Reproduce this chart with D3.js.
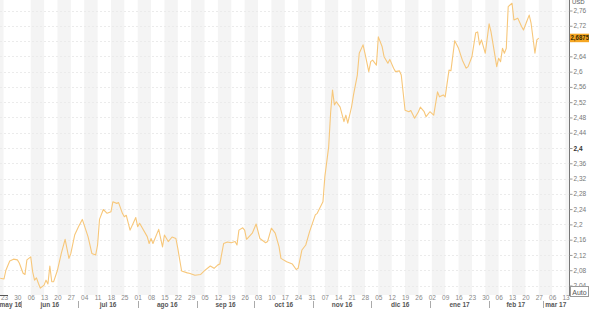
<!DOCTYPE html>
<html><head><meta charset="utf-8">
<script src="https://cdn.jsdelivr.net/npm/d3@7"></script>
<style>html,body{margin:0;padding:0;background:#fff;}svg{display:block;font-family:"Liberation Sans",Arial,sans-serif;}</style>
</head><body>
<script>
// ---- data ----
const dates = ["2016-05-21","2016-05-23","2016-05-24","2016-05-26","2016-05-28","2016-05-30","2016-05-31","2016-06-02","2016-06-03","2016-06-04","2016-06-06","2016-06-07","2016-06-08","2016-06-09","2016-06-10","2016-06-11","2016-06-13","2016-06-14","2016-06-15","2016-06-16","2016-06-17","2016-06-18","2016-06-20","2016-06-22","2016-06-24","2016-06-26","2016-06-27","2016-06-29","2016-07-01","2016-07-03","2016-07-04","2016-07-06","2016-07-08","2016-07-10","2016-07-11","2016-07-12","2016-07-14","2016-07-16","2016-07-18","2016-07-19","2016-07-21","2016-07-22","2016-07-24","2016-07-25","2016-07-26","2016-07-28","2016-07-30","2016-07-31","2016-08-01","2016-08-02","2016-08-06","2016-08-07","2016-08-08","2016-08-09","2016-08-12","2016-08-14","2016-08-15","2016-08-17","2016-08-19","2016-08-21","2016-08-22","2016-08-24","2016-08-27","2016-08-28","2016-08-31","2016-09-03","2016-09-05","2016-09-08","2016-09-10","2016-09-12","2016-09-13","2016-09-15","2016-09-17","2016-09-19","2016-09-21","2016-09-22","2016-09-23","2016-09-25","2016-09-26","2016-09-27","2016-09-30","2016-10-02","2016-10-04","2016-10-07","2016-10-08","2016-10-10","2016-10-12","2016-10-14","2016-10-15","2016-10-18","2016-10-21","2016-10-23","2016-10-24","2016-10-26","2016-10-28","2016-10-30","2016-11-02","2016-11-03","2016-11-06","2016-11-07","2016-11-09","2016-11-10","2016-11-11","2016-11-12","2016-11-13","2016-11-15","2016-11-17","2016-11-18","2016-11-19","2016-11-21","2016-11-22","2016-11-24","2016-11-25","2016-11-27","2016-11-28","2016-11-30","2016-12-01","2016-12-02","2016-12-04","2016-12-05","2016-12-07","2016-12-08","2016-12-10","2016-12-11","2016-12-13","2016-12-14","2016-12-16","2016-12-17","2016-12-19","2016-12-21","2016-12-22","2016-12-24","2016-12-26","2016-12-27","2016-12-29","2016-12-30","2017-01-01","2017-01-03","2017-01-05","2017-01-06","2017-01-08","2017-01-09","2017-01-11","2017-01-12","2017-01-14","2017-01-16","2017-01-18","2017-01-20","2017-01-21","2017-01-23","2017-01-25","2017-01-26","2017-01-27","2017-01-28","2017-01-30","2017-02-01","2017-02-02","2017-02-03","2017-02-05","2017-02-06","2017-02-07","2017-02-08","2017-02-09","2017-02-10","2017-02-11","2017-02-13","2017-02-14","2017-02-16","2017-02-18","2017-02-19","2017-02-21","2017-02-22","2017-02-23","2017-02-25","2017-02-26","2017-02-27"];
const values = [2.059,2.057,2.080,2.104,2.109,2.107,2.099,2.072,2.069,2.107,2.115,2.076,2.054,2.060,2.046,2.033,2.041,2.054,2.044,2.091,2.050,2.050,2.080,2.124,2.161,2.111,2.124,2.172,2.194,2.213,2.198,2.168,2.124,2.120,2.146,2.213,2.239,2.229,2.233,2.259,2.255,2.257,2.229,2.220,2.224,2.185,2.207,2.218,2.194,2.203,2.168,2.150,2.163,2.150,2.187,2.141,2.172,2.155,2.167,2.163,2.137,2.078,2.073,2.072,2.067,2.069,2.079,2.091,2.085,2.094,2.096,2.150,2.154,2.152,2.155,2.146,2.185,2.191,2.185,2.161,2.177,2.201,2.163,2.152,2.155,2.190,2.177,2.142,2.111,2.102,2.096,2.082,2.085,2.133,2.146,2.181,2.225,2.229,2.259,2.325,2.403,2.491,2.552,2.513,2.521,2.507,2.469,2.486,2.465,2.508,2.539,2.591,2.648,2.670,2.648,2.600,2.626,2.630,2.617,2.691,2.665,2.639,2.622,2.632,2.609,2.600,2.602,2.591,2.499,2.495,2.498,2.478,2.495,2.507,2.495,2.482,2.495,2.486,2.547,2.534,2.539,2.534,2.604,2.602,2.681,2.661,2.630,2.609,2.613,2.639,2.702,2.704,2.670,2.683,2.648,2.725,2.704,2.674,2.613,2.635,2.626,2.661,2.648,2.661,2.770,2.779,2.735,2.740,2.718,2.709,2.735,2.748,2.726,2.648,2.683,2.6875];
const yTicks = [2.04,2.08,2.12,2.16,2.2,2.24,2.28,2.32,2.36,2.4,2.44,2.48,2.52,2.56,2.6,2.64,2.68,2.72,2.76];
const yTickLabels = ["2,04","2,08","2,12","2,16","2,2","2,24","2,28","2,32","2,36","2,4","2,44","2,48","2,52","2,56","2,6","2,64","2,68","2,72","2,76"];
const monthLabels = ["may 16","jun 16","jul 16","ago 16","sep 16","oct 16","nov 16","dic 16","ene 17","feb 17","mar 17"];
const lastLabel = "2,6875";
const lastValue = 2.6875;
const currency = "USD";

// ---- layout ----
const W = 589, H = 309;
const plotRight = 569, plotBottom = 295;
const parse = d3.utcParse("%Y-%m-%d");
const data = dates.map((d, i) => ({date: parse(d), value: values[i]}));

const x = d3.scaleUtc().domain([parse("2016-05-23"), parse("2017-03-13")]).range([4, 565.5]);
const y = d3.scaleLinear().domain([2.04, 2.76]).range([285.5, 10.5]);

const svg = d3.select("body").append("svg").attr("width", W).attr("height", H);

svg.append("clipPath").attr("id", "clip").append("rect")
  .attr("x", 0).attr("y", 0).attr("width", plotRight).attr("height", plotBottom);

const plot = svg.append("g").attr("clip-path", "url(#clip)");

// alternating weekly bands
const mondays = d3.utcMonday.range(parse("2016-05-16"), parse("2017-04-01"));
const ref = parse("2016-06-06");
const bandWeeks = mondays.filter(m => {
  const k = Math.round((m - ref) / (7 * 864e5));
  return k >= 0 && k % 2 === 0;
});
plot.selectAll("rect.band").data(bandWeeks).join("rect")
  .attr("class", "band")
  .attr("x", d => x(d))
  .attr("y", 0)
  .attr("width", d => x(d3.utcDay.offset(d, 7)) - x(d))
  .attr("height", plotBottom)
  .attr("fill", "#f4f4f4");
// partial band at the left edge
plot.append("rect").attr("x", 0).attr("y", 0)
  .attr("width", x(parse("2016-05-23")) - 0.5).attr("height", plotBottom).attr("fill", "#f4f4f4");

// faint horizontal grid
plot.selectAll("line.grid").data(yTicks).join("line")
  .attr("class", "grid")
  .attr("x1", 0).attr("x2", plotRight)
  .attr("y1", d => Math.round(y(d)) + 0.5).attr("y2", d => Math.round(y(d)) + 0.5)
  .attr("stroke", "#ebebeb").attr("stroke-width", 1).attr("stroke-dasharray", "2,2");

// price line
plot.append("path").datum(data)
  .attr("fill", "none")
  .attr("stroke", "#f7c77a")
  .attr("stroke-width", 1.1)
  .attr("stroke-linejoin", "round")
  .attr("d", d3.line().x(d => x(d.date)).y(d => y(d.value)));

// right axis
const yAxis = d3.axisRight(y).tickValues(yTicks).tickSize(3).tickPadding(1)
  .tickFormat((d, i) => yTickLabels[i]);
const ya = svg.append("g").attr("transform", `translate(${plotRight + 0.5},0)`).call(yAxis);
ya.select(".domain").attr("stroke", "#777").attr("d", `M0,0V${plotBottom + 1}`);
ya.selectAll(".tick line").attr("stroke", "#999");
ya.selectAll(".tick text").style("font-size", "6.5px")
  .style("font-weight", d => d === 2.4 ? "bold" : "normal")
  .attr("fill", d => d === 2.4 ? "#333" : "#777");
// the tick label hidden under the last-value badge
ya.selectAll(".tick text").filter(d => Math.abs(d - 2.68) < 1e-9).remove();

// currency label
svg.append("text").attr("x", 572).attr("y", 4).text(currency)
  .attr("fill", "#555").style("font-size", "6px");

// last-value label
const ly = y(lastValue);
svg.append("rect").attr("x", plotRight + 1).attr("y", ly - 4.5).attr("width", W - plotRight - 1).attr("height", 8.5)
  .attr("fill", "#f5a623");
svg.append("text").attr("x", plotRight + 1.5).attr("y", ly + 2.2).text(lastLabel)
  .attr("textLength", 18.5).attr("lengthAdjust", "spacingAndGlyphs")
  .attr("fill", "#3a2a00").style("font-size", "6.5px").style("font-weight", "bold");

// "Auto" box
svg.append("rect").attr("x", 570.5).attr("y", 286.5).attr("width", 18).attr("height", 10)
  .attr("fill", "#fff").attr("stroke", "#999").attr("stroke-width", 1);
svg.append("text").attr("x", 579.5).attr("y", 294.5).attr("text-anchor", "middle").text("Auto")
  .attr("fill", "#555").style("font-size", "7px");

// bottom axis: weekly day numbers
const weekTicks = d3.utcMonday.range(parse("2016-05-23"), parse("2017-03-14"));
const xAxis = d3.axisBottom(x).tickValues(weekTicks).tickSize(0).tickPadding(0)
  .tickFormat(d3.utcFormat("%d"));
const xa = svg.append("g").attr("transform", `translate(0,${plotBottom - 1})`).call(xAxis);
xa.select(".domain").remove();
xa.selectAll(".tick text").attr("fill", "#888").style("font-size", "6.5px").attr("dy", "0.9em");

// short dark marker under the first tick
svg.append("line").attr("x1", 0).attr("x2", 8).attr("y1", 295.5).attr("y2", 295.5)
  .attr("stroke", "#555").attr("stroke-width", 1);

// month row
const months = d3.utcMonth.range(parse("2016-05-01"), parse("2017-04-01"));
const mg = svg.append("g");
months.forEach((m, i) => {
  const x0 = Math.max(0, x(m));
  const x1 = Math.min(plotRight, x(d3.utcMonth.offset(m, 1)));
  if (x1 <= x0) return;
  mg.append("text").attr("x", (x0 + x1) / 2).attr("y", 307).attr("text-anchor", "middle")
    .text(monthLabels[i]).attr("fill", "#555").style("font-size", "6.5px").style("font-weight", "bold");
  if (i > 0) {
    mg.append("line").attr("x1", Math.round(x(m)) + 0.5).attr("x2", Math.round(x(m)) + 0.5)
      .attr("y1", 301).attr("y2", 308).attr("stroke", "#aaa").attr("stroke-width", 1);
  }
});
</script>
</body></html>
